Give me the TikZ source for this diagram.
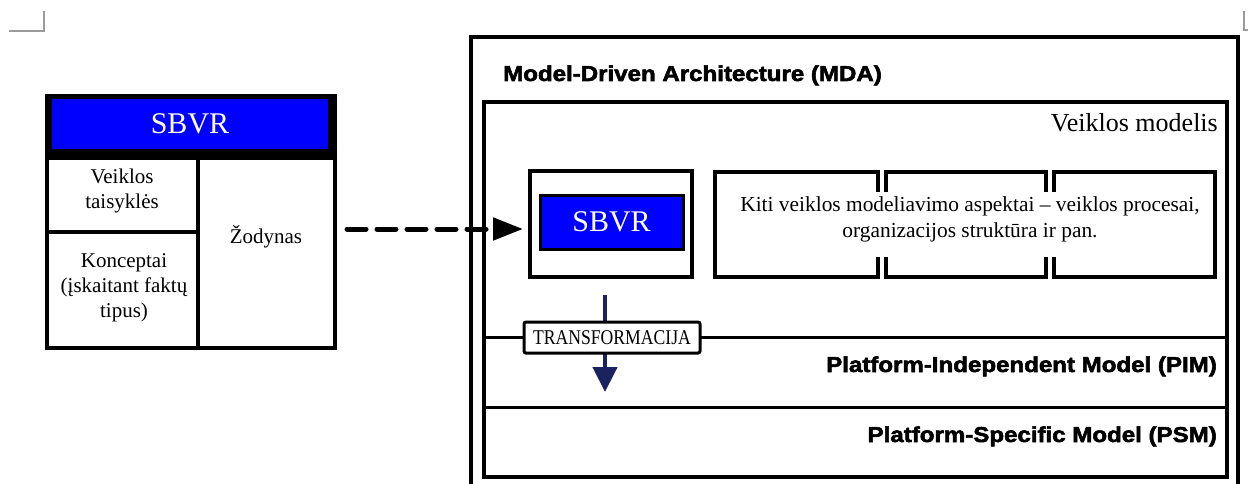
\documentclass[tikz,border=0pt]{standalone}
\usepackage{fontspec}
\setmainfont{Liberation Serif}
\newfontfamily\mdasans{Liberation Sans}[FakeStretch=1.12,BoldFeatures={FakeBold=2.6}]
\newfontfamily\narrowserif{Liberation Serif}[FakeStretch=0.84]
\usetikzlibrary{arrows.meta,fit}
\definecolor{sbvrblue}{RGB}{0,0,255}
\definecolor{trnavy}{RGB}{26,34,96}
\definecolor{cropgrey}{RGB}{155,155,155}
\begin{document}
\begin{tikzpicture}[x=1pt,y=-1pt,
  frame/.style={draw, line width=4pt, inner sep=0pt},
  band/.style={draw, line width=3pt, inner sep=0pt},
  cell/.style={draw, line width=3.5pt, inner sep=0pt},
  bluebox/.style={fill=sbvrblue, inner sep=0pt},
  sbvrtext/.style={inner sep=0pt, text=white, font=\fontsize{30}{36}\selectfont},
  label/.style={inner sep=0pt, align=center,
    font=\fontsize{21}{25}\selectfont},
  mdatext/.style={inner sep=0pt, font=\mdasans\bfseries\fontsize{21.5}{26}\selectfont},
  cropmark/.style={draw=cropgrey, line width=1.5pt},
]
\useasboundingbox (0,0) rectangle (1248,484);

% page corner marks
\draw[cropmark] (9,31) -- (44,31) -- (44,11);
\draw[cropmark] (1244,11) -- (1244,30) -- (1249,30);

% ---- SBVR table ----
\node[fill=black, inner sep=0pt, fit={(47,96) (335,158)}] (tabhead) {};
\node[bluebox, fit={(52,99) (328,149)}] (tabblue) {};
\node[sbvrtext] (tabtitle) at (tabblue.center) {SBVR};
\node[cell, fit={(47,158) (198,232)}] (rulescell) {};
\node[cell, fit={(47,232) (198,348)}] (conceptcell) {};
\node[cell, fit={(198,158) (335,348)}] (vocabcell) {};
\node[frame, line width=4.5pt, fit={(47,96) (335,348)}] (sbvrtab) {};
\node[label] (rules) at (122,191) {Veiklos\\taisyklės};
\node[label] (concepts) at (124,288) {Konceptai\\(įskaitant faktų\\tipus)};
\node[label] (vocab) at (266,236.5) {Žodynas};

% ---- MDA frame and its layers ----
\node[frame, fit={(471,37) (1238,512)}] (mda) {};
\node[mdatext, anchor=base west] (mdatitle) at (503,81) {Model-Driven Architecture (MDA)};
\node[frame, fit={(484,102) (1227,477)}] (business) {};
\node[band, fit={(484,337) (1227,407)}] (pim) {};
\node[band, fit={(484,407) (1227,477)}] (psm) {};
\node[inner sep=0pt, anchor=base east, font=\fontsize{26}{30}\selectfont]
  (bizlabel) at (1218,132) {Veiklos modelis};
\node[mdatext, anchor=base east] (pimlabel) at (1217,372) {Platform-Independent Model (PIM)};
\node[mdatext, anchor=base east] (psmlabel) at (1217,442) {Platform-Specific Model (PSM)};

% SBVR inside the business model
\node[frame, fit={(530,171) (692,277)}] (sbvrbox) {};
\node[bluebox, draw, line width=3pt, fit={(540,195) (683,249)}] (sbvrinner) {};
\node[sbvrtext] (innertitle) at (sbvrinner.center) {SBVR};

% other business modelling aspects
\node[frame, fit={(715,172) (878,277)}] (aspect1) {};
\node[frame, fit={(886,172) (1046,277)}] (aspect2) {};
\node[frame, fit={(1054,172) (1215,277)}] (aspect3) {};
\fill[white] (721,192) rectangle (1209,257);
\node[label, font=\fontsize{21.4}{25.5}\selectfont] (aspects) at (970,219.5)
  {Kiti veiklos modeliavimo aspektai – veiklos procesai,\\organizacijos struktūra ir pan.};

% transformation towards PIM
\coordinate (trtop) at (605,295);
\coordinate (trtip) at (605,392);
\draw[trnavy, line width=4.5pt, -{Triangle[length=25pt,width=24pt]}] (trtop) -- (trtip);
\node[draw, fill=white, line width=3pt, rounded corners=2pt, inner sep=0pt,
  minimum width=176pt, minimum height=31pt,
  font=\narrowserif\fontsize{21}{24}\selectfont] (transform) at (612,337.5) {TRANSFORMACIJA};

% SBVR mapped into the business model
\coordinate (dashstart) at (347,229);
\draw[line width=5pt, line cap=round, dash pattern=on 19pt off 11pt,
  -{Triangle[length=30pt,width=22pt]}, shorten >=5pt]
  (dashstart) -- (sbvrbox.west |- dashstart);
\end{tikzpicture}
\end{document}
